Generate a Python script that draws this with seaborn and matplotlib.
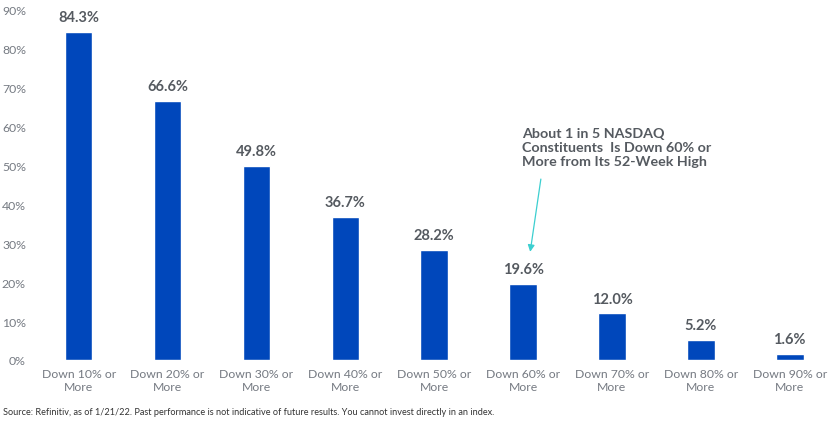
import seaborn as sns
import matplotlib.pyplot as plt
import pandas as pd

categories = ["Down 10% or\nMore", "Down 20% or\nMore", "Down 30% or\nMore",
              "Down 40% or\nMore", "Down 50% or\nMore", "Down 60% or\nMore",
              "Down 70% or\nMore", "Down 80% or\nMore", "Down 90% or\nMore"]
values = [84.3, 66.6, 49.8, 36.7, 28.2, 19.6, 12.0, 5.2, 1.6]
yticks = [0, 10, 20, 30, 40, 50, 60, 70, 80, 90]

sns.set_style("white")
plt.rcParams['font.family'] = ['Lato', 'DejaVu Sans']

df = pd.DataFrame({'cat': categories, 'val': values})

fig = plt.figure(figsize=(8.35, 4.27), dpi=100)
ax = fig.add_axes([0.041, 0.1546, 0.958, 0.82])
sns.barplot(data=df, x='cat', y='val', color='#0047BB', width=0.31, saturation=1, ax=ax)

for i, v in enumerate(values):
    ax.text(i, v + 2.0, f"{v:.1f}%", ha='center', va='bottom', fontsize=10.5,
            fontweight='bold', color='#555A60')

ax.set_xlim(-0.5, 8.5)
ax.set_ylim(0, 90)
ax.set_yticks(yticks)
ax.set_yticklabels([f"{t}%" for t in yticks])
ax.tick_params(axis='y', labelsize=8.8, colors='#757a82', length=0, pad=6)
ax.tick_params(axis='x', labelsize=8.8, colors='#757a82', length=0, pad=6)
ax.set_xlabel("")
ax.set_ylabel("")
sns.despine(left=True, bottom=True)

# callout arrow pointing at the 60% bar
ax.annotate("", xy=(5.08, 27.8), xytext=(5.2, 46.5),
            arrowprops=dict(arrowstyle='-|>', color='#3CCFD0', lw=0.9, mutation_scale=10,
                            shrinkA=0, shrinkB=0))
ax.text(4.99, 60.0, "About 1 in 5 NASDAQ\nConstituents  Is Down 60% or\nMore from Its 52-Week High",
        ha='left', va='top', fontsize=10.3, fontweight='bold', color='#555A60', linespacing=1.2)

fig.text(0.003, 0.035, "Source: Refinitiv, as of 1/21/22. Past performance is not indicative of future results. You cannot invest directly in an index.",
         fontsize=6.6, color='#333333', ha='left', va='center')

plt.savefig('out.png', dpi=100)
